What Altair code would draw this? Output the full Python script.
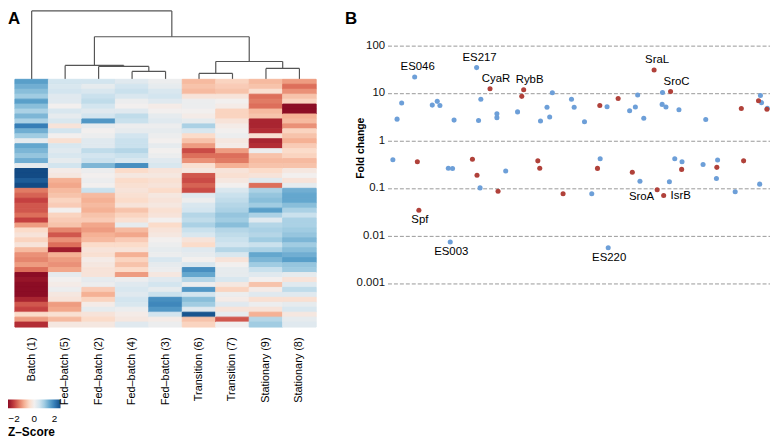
import altair as alt
import pandas as pd

# ---------------- Panel A: heatmap data ----------------
samples = ["Batch (1)", "Fed–batch (5)", "Fed–batch (2)", "Fed–batch (4)", "Fed–batch (3)",
           "Transition (6)", "Transition (7)", "Stationary (9)", "Stationary (8)"]

z_batch1 = [1.6, 1.4, 1.2, 1.0, 1.6, 1.2, 0.9, 1.3, 0.9, 2.0, 1.4, 1.0, 0.2,
            1.5, 1.3, 1.1, 1.4, 0.2, 2.8, 2.6, 2.4, 2.7, -1.5, -1.7, -2.0, -1.8,
            -1.8, -1.6, -2.0, -1.2, -0.5, -0.3, -0.6, -0.3, -0.9, -1.3, -1.4, -1.2, -1.6,
            -2.7, -2.5, -2.8, -2.6, -2.7, -2.3, -1.8, -2.0, -0.5, -1.2, -2.2]
z_fed5 = [0.5, 0.4, 0.5, 0.3, 0.3, 0.0, 0.4, 0.2, 0.4, -0.3, 0.5, 0.0, -0.4,
          0.4, 0.3, 0.4, 0.2, 0.5, -0.1, -0.2, -1.0, -1.1, -0.9, -0.8, -0.6, -0.7,
          0.0, -0.6, -0.7, -0.8, -1.4, -1.8, -1.3, -1.6, -2.4, -1.0, -1.2, -1.3, -1.1,
          0.2, 0.0, -0.1, 0.1, -0.2, -0.3, -1.2, -1.1, -0.4, -0.9, -0.2]
z_fed2 = [0.5, 0.2, 0.4, 0.6, 0.7, 0.5, 0.3, 0.5, 1.7, 0.2, 0.0, 0.1, 0.3,
          0.3, 0.7, 0.5, 0.6, 1.3, 0.1, 0.0, 0.1, 0.0, 0.6, -0.9, -1.0, -0.9,
          -1.0, -0.8, -0.7, -1.1, -1.2, -1.0, -0.9, -0.5, -0.3, -0.4, -0.1, -0.2, -0.3,
          -0.3, 0.2, 0.1, -0.7, -1.0, -0.6, -0.1, 0.2, -0.3, -0.5, -0.2]
z_fed4 = [0.3, 0.5, 0.6, 0.4, 0.1, 0.0, 0.3, 0.7, 0.6, 0.1, 0.2, 0.5, 0.6,
          0.6, 0.8, 0.6, 0.4, 1.8, -0.5, -0.2, -0.5, -0.4, -0.3, -0.4, -0.5, -0.3,
          -0.8, -0.6, -0.4, 0.2, -0.9, -1.1, -0.7, -0.5, -0.3, -1.0, -0.6, -0.8, -0.5,
          -1.2, 0.1, 0.3, 0.4, 0.3, 0.5, 0.4, 0.1, -0.1, -0.2, 0.3]
z_fed3 = [0.1, 0.2, 0.4, 0.5, 0.3, -0.1, 0.0, 0.2, 0.3, 0.1, 0.2, 0.1, 0.0,
          0.2, 0.0, 0.1, 0.3, 0.4, -0.3, -0.2, -0.4, -0.3, -0.5, -0.2, -0.3, -0.2,
          -0.4, -0.3, 0.0, -0.5, -0.3, -0.2, 0.0, 0.1, 0.2, 0.1, 0.4, 0.2, 0.1,
          -0.2, 0.3, 0.5, 0.2, 0.6, 1.8, 1.9, 1.7, 0.5, -0.1, 0.1]
z_trans6 = [-0.9, -0.8, -0.9, -0.3, 0.1, 0.1, 0.0, -0.1, 0.2, 0.9, 0.4, -0.5, -0.8,
            -1.2, -1.9, -1.6, -1.3, -0.4, -0.2, -1.8, -1.9, -1.7, -1.9, 0.3, 0.1, 0.4,
            0.5, 0.8, 0.7, 0.9, 0.6, 0.4, -0.3, -0.5, 0.3, 0.2, 0.0, 0.4, 1.8,
            1.5, 0.8, 0.1, 1.7, 0.5, 1.2, 1.0, 0.3, 2.5, -0.8, -0.6]
z_trans7 = [-0.6, -0.7, -0.8, -0.3, 0.0, -0.1, -0.6, -0.6, -0.3, -0.1, 0.0, 0.1, -0.2,
            -0.1, -1.2, -1.6, -1.5, -1.0, -0.3, -0.4, -0.2, 0.0, 0.4, 0.6, 0.7, 0.8,
            0.9, 1.1, 1.0, 1.2, 0.8, 0.7, 0.6, 0.5, 0.8, 0.4, -0.3, 0.0, 0.2,
            0.2, 0.4, -0.2, -0.6, 0.1, -0.1, 0.3, -0.3, 0.2, -1.8, 0.0]
z_stat9 = [-0.9, -0.8, -0.4, -1.6, -1.5, -1.6, -0.9, -0.8, -2.3, -2.3, -2.2, -0.4, -2.3,
           -2.2, 0.1, -0.8, -0.9, -0.8, -0.5, -0.3, 0.3, -1.6, 0.9, 1.1, 1.2, 1.0,
           1.6, 0.9, 0.3, 0.8, 0.9, 0.8, 1.0, 0.6, 0.9, 1.5, 1.3, 1.0, 0.6,
           0.3, 0.0, -0.8, -0.1, 0.3, -0.4, 0.1, -0.3, -1.0, 0.8, 1.0]
z_stat8 = [-1.2, -1.6, -1.3, -0.8, -0.6, -2.6, -2.6, -1.0, -0.9, -1.3, -0.6, -0.8, -1.0,
           -0.7, -0.5, -0.6, -0.9, -0.8, -0.2, 0.0, -0.3, 0.2, 1.4, 1.5, 1.5, 1.2,
           0.9, 0.6, 0.9, 0.9, 1.0, 1.1, 1.3, 1.0, 1.2, 1.4, 1.6, 1.1, 1.0,
           0.2, -0.3, 0.3, 0.7, 0.3, -0.4, 0.2, 0.4, -0.2, 0.2, 0.3]
heat_values = [z_batch1, z_fed5, z_fed2, z_fed4, z_fed3, z_trans6, z_trans7, z_stat9, z_stat8]

# dendrogram linkage (children ids, merge height); leaves are 0..8
link_a = [3, 2, 1, 5, 7, 12, 11, 0]
link_b = [4, 9, 10, 6, 8, 13, 14, 15]
link_h = [8, 13, 14, 6, 11, 18, 43, 69]

# ---------------- Panel B: scatter data ----------------
pos = [1.4, 2.5, 3.7, 7.1, 7.8, 8.2, 11.7, 13.0, 13.7, 15.9, 16.4, 17.0, 17.4,
       22.2, 23.3, 23.4, 23.8, 24.2, 24.4, 26.8, 28.6, 28.6, 28.9, 30.9, 34.0, 35.1,
       35.6, 39.3, 39.8, 40.0, 41.7, 42.4, 43.1, 45.9, 48.1, 48.8, 51.5, 53.4, 54.9,
       55.5, 55.6, 57.4, 57.7, 60.3, 63.3, 64.0, 64.8, 65.4, 66.0, 67.0, 69.7, 70.5,
       71.8, 71.9, 72.2, 72.8, 73.7, 74.0, 75.1, 76.2, 76.9, 77.0, 82.5, 83.2, 86.0,
       86.1, 86.3, 90.9, 92.5, 93.1, 97.0, 97.3, 97.5, 97.8, 99.2, 99.3]
fold = [0.39, 2.79, 6.1, 21.5, 0.355, 0.034, 5.5, 6.6, 5.4, 0.26, 0.0073, 0.255, 2.66,
        0.40, 33.8, 0.184, 2.6, 0.10, 7.3, 12.1, 3.6, 3.0, 0.085, 0.226, 3.96, 8.4,
        11.6, 0.37, 0.26, 2.55, 4.95, 3.1, 10.0, 0.075, 7.3, 4.95, 2.45, 0.075, 0.257,
        5.4, 0.41, 5.1, 0.0055, 7.6, 4.2, 0.214, 5.0, 9.0, 0.138, 2.9, 30.1, 0.091,
        5.7, 10.1, 0.069, 5.0, 0.135, 10.6, 0.41, 4.4, 0.245, 0.355, 0.31, 2.74, 0.157,
        0.27, 0.385, 0.083, 4.65, 0.37, 6.8, 0.12, 8.8, 6.2, 4.5, 4.7]
kind = ["novel", "novel", "novel", "novel", "known", "known", "novel", "novel", "novel", "novel", "novel", "novel", "novel",
        "known", "novel", "known", "novel", "novel", "novel", "known", "novel", "novel", "known", "novel", "novel", "known",
        "known", "known", "known", "novel", "novel", "novel", "novel", "known", "novel", "novel", "novel", "novel", "known",
        "known", "novel", "novel", "novel", "known", "novel", "known", "novel", "novel", "novel", "novel", "known", "known",
        "novel", "novel", "known", "novel", "novel", "known", "novel", "novel", "known", "novel", "novel", "novel", "novel",
        "known", "novel", "novel", "known", "known", "known", "novel", "novel", "novel", "known", "novel"]
names = {3: "ES046", 5: "Spf", 10: "ES003", 14: "ES217", 19: "CyaR", 26: "RybB",
         42: "ES220", 50: "SraL", 51: "SroA", 54: "IsrB", 57: "SroC"}
label_side = {"ES046": "above", "ES217": "above", "CyaR": "above right", "RybB": "above right",
              "SraL": "above", "SroC": "above right", "Spf": "below", "ES003": "below",
              "ES220": "below", "SroA": "left", "IsrB": "right"}
fold_ticks = [0.001, 0.01, 0.1, 1, 10, 100]

BLUE = "#6d9fd8"
RED = "#b0413a"
FONT = "Liberation Sans"

# ---------------- build tables ----------------
heat_rows = []
for s, vals in zip(samples, heat_values):
    for i, v in enumerate(vals):
        heat_rows.append({"sample": s, "row": i, "z": v})
heat_df = pd.DataFrame(heat_rows)

node_x = [i + 0.5 for i in range(len(samples))]
node_h = [0] * len(samples)
segs = []
for a, b, h in zip(link_a, link_b, link_h):
    xa, xb = node_x[a], node_x[b]
    segs.append({"x": xa, "x2": xa, "y": node_h[a], "y2": h})
    segs.append({"x": xb, "x2": xb, "y": node_h[b], "y2": h})
    segs.append({"x": xa, "x2": xb, "y": h, "y2": h})
    node_x.append((xa + xb) / 2)
    node_h.append(h)
seg_df = pd.DataFrame(segs)

sc_df = pd.DataFrame({"pos": pos, "fold": fold, "kind": kind})
sc_df["name"] = [names.get(i, "") for i in range(len(pos))]
sc_df["side"] = [label_side.get(n, "") for n in sc_df["name"]]

# ---------------- Panel A ----------------
dendro = alt.Chart(seg_df).mark_rule(color="#555555", strokeWidth=1.2).encode(
    x=alt.X("x:Q", scale=alt.Scale(domain=[0, 9], nice=False), axis=None),
    x2="x2:Q",
    y=alt.Y("y:Q", scale=alt.Scale(domain=[0, 69], nice=False), axis=None),
    y2="y2:Q",
)
letter_a = alt.Chart(pd.DataFrame({"t": ["A"]})).mark_text(
    align="left", baseline="alphabetic", font=FONT, fontSize=17, fontWeight="bold", color="#000"
).encode(x=alt.value(-7), y=alt.value(13), text="t:N")
dendro_panel = alt.layer(dendro, letter_a).properties(width=304, height=69)

heat = alt.Chart(heat_df).mark_rect().encode(
    x=alt.X("sample:N", sort=samples,
            scale=alt.Scale(paddingInner=0, paddingOuter=0),
            axis=alt.Axis(title=None, labelAngle=-90, ticks=False, domain=False,
                          labelPadding=10, labelFont=FONT, labelFontSize=11,
                          labelColor="#000")),
    y=alt.Y("row:O", axis=None, scale=alt.Scale(paddingInner=0, paddingOuter=0)),
    color=alt.Color("z:Q",
                    scale=alt.Scale(scheme="redblue", domain=[-2.6, 2.6], clamp=True),
                    legend=alt.Legend(orient="none", legendX=-7, legendY=323,
                                      direction="horizontal", gradientLength=53,
                                      gradientThickness=9, gradientStrokeWidth=0,
                                      values=[-2, 0, 2], title="Z–Score",
                                      titleOrient="bottom", titleFont=FONT,
                                      titleFontSize=12, titleFontWeight="bold",
                                      titleColor="#000", titlePadding=3, labelFont=FONT,
                                      labelFontSize=10, labelColor="#000", labelOffset=6)),
    stroke=alt.Stroke("z:Q", scale=alt.Scale(scheme="redblue", domain=[-2.6, 2.6], clamp=True),
                      legend=None),
).properties(width=304, height=250)

left = alt.vconcat(dendro_panel, heat, spacing=0, bounds="flush").resolve_legend(color="independent")

# ---------------- Panel B ----------------
base = alt.Chart(sc_df)
xs = alt.X("pos:Q", scale=alt.Scale(domain=[0, 100], nice=False, zero=False), axis=None)
ys = alt.Y("fold:Q",
           scale=alt.Scale(type="log", domain=[10 ** -3.53, 10 ** 2.72], nice=False),
           axis=alt.Axis(values=fold_ticks, format="~g", grid=True, gridDash=[4, 2],
                         gridColor="#999999", gridWidth=1, ticks=False, domain=False,
                         labelPadding=3, labelFont=FONT, labelFontSize=11.5,
                         labelColor="#111", title="Fold change", titleFont=FONT,
                         titleFontSize=10.5, titleFontWeight="bold", titleColor="#000",
                         titleX=-27, titleY=138, titleAngle=-90, titleBaseline="middle",
                         titleAlign="center"))

pts_novel = base.transform_filter(alt.datum.kind == "novel").mark_circle(
    size=26, opacity=1, color=BLUE).encode(x=xs, y=ys)
pts_known = base.transform_filter(alt.datum.kind == "known").mark_circle(
    size=26, opacity=1, color=RED).encode(x=xs, y=ys)

txt = dict(font=FONT, fontSize=11.5, color="#000")
lab_above = base.transform_filter(alt.datum.side == "above").mark_text(
    align="center", baseline="middle", dx=3, dy=-10, **txt).encode(x=xs, y=ys, text="name:N")
lab_above_r = base.transform_filter(alt.datum.side == "above right").mark_text(
    align="center", baseline="middle", dx=6, dy=-10, **txt).encode(x=xs, y=ys, text="name:N")
lab_below = base.transform_filter(alt.datum.side == "below").mark_text(
    align="center", baseline="middle", dx=1, dy=10, **txt).encode(x=xs, y=ys, text="name:N")
lab_left = base.transform_filter(alt.datum.side == "left").mark_text(
    align="right", baseline="middle", dx=-3, dy=7, **txt).encode(x=xs, y=ys, text="name:N")
lab_right = base.transform_filter(alt.datum.side == "right").mark_text(
    align="left", baseline="middle", dx=7, dy=0, **txt).encode(x=xs, y=ys, text="name:N")
letter_b = alt.Chart(pd.DataFrame({"t": ["B"]})).mark_text(
    align="left", baseline="alphabetic", font=FONT, fontSize=17, fontWeight="bold", color="#000"
).encode(x=alt.value(-43), y=alt.value(13), text="t:N")

right = alt.layer(pts_novel, pts_known, lab_above, lab_above_r, lab_below, lab_left,
                  lab_right, letter_b).properties(width=386, height=300)

chart = alt.hconcat(left, right, spacing=28).resolve_legend(
    color="independent").properties(padding=0).configure_view(stroke=None)

chart.save("out.html", embed_options={"renderer": "svg", "actions": False})
